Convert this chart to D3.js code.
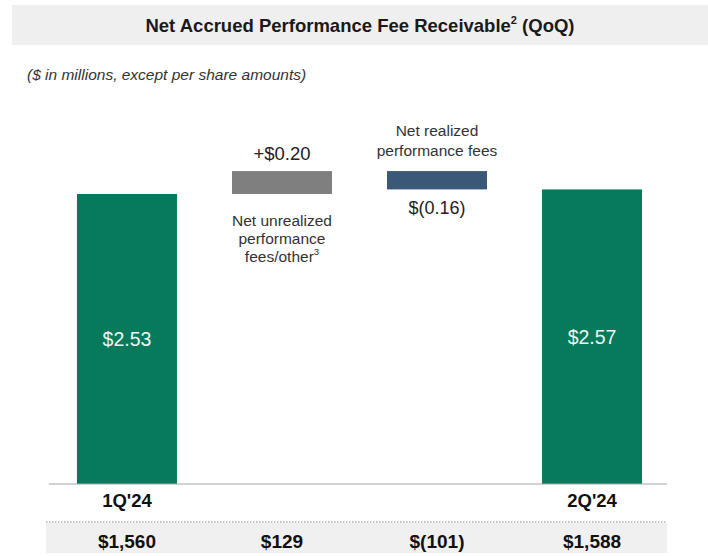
<!DOCTYPE html>
<html lang="en">
<head>
    <meta charset="UTF-8">
    <script src="https://d3js.org/d3.v7.min.js"></script>
    <title>Net Accrued Performance Fee Receivable</title>
    <style>
        body { margin: 0; background: #fff; }
        svg { font-family: "Liberation Sans", Arial, sans-serif; }
    </style>
</head>
<body>
    <div id="chart"></div>
    <script>
        // per share values for the waterfall
        const steps = ["1Q'24", "unrealized", "realized", "2Q'24"];
        const stepValues = [2.53, 0.20, -0.16, 2.57];
        const stepTypes = ["total", "delta", "delta", "total"];
        const stepLabels = ["$2.53", "+$0.20", "$(0.16)", "$2.57"];
        const axisLabels = ["1Q'24", "", "", "2Q'24"];
        const millions = ["$1,560", "$129", "$(101)", "$1,588"];

        const width = 708, height = 556;
        const colors = {
            total: "#077a5b",
            up: "#7f7f7f",
            down: "#3b5878"
        };

        const svg = d3.select("#chart").append("svg")
            .attr("width", width)
            .attr("height", height);

        // header band
        svg.append("rect")
            .attr("x", 12).attr("y", 5)
            .attr("width", width - 12).attr("height", 40)
            .attr("fill", "#efefef");

        const title = svg.append("text")
            .attr("x", 360).attr("y", 32)
            .attr("text-anchor", "middle")
            .attr("font-size", 18.5)
            .attr("font-weight", "bold")
            .attr("fill", "#1a1a1a");
        title.append("tspan").text("Net Accrued Performance Fee Receivable");
        title.append("tspan").text("2").attr("font-size", 11).attr("dy", -8);
        title.append("tspan").text(" (QoQ)").attr("dy", 8);

        svg.append("text")
            .attr("x", 27).attr("y", 80)
            .attr("font-size", 15.5)
            .attr("font-style", "italic")
            .attr("fill", "#333")
            .text("($ in millions, except per share amounts)");

        // scales
        const x = d3.scaleBand()
            .domain(steps)
            .range([50, 669])
            .paddingInner(0.355)
            .paddingOuter(0.174);

        const y = d3.scaleLinear()
            .domain([0, 2.53])
            .range([484, 194]);

        // compute waterfall extents
        let running = 0;
        const bars = steps.map((s, i) => {
            const v = stepValues[i];
            let y0, y1, kind;
            if (stepTypes[i] === "total") {
                y0 = 0; y1 = v; running = v; kind = "total";
            } else {
                y0 = running; y1 = running + v; running = y1;
                kind = v >= 0 ? "up" : "down";
            }
            return { step: s, y0, y1, kind, label: stepLabels[i] };
        });

        svg.selectAll("rect.bar")
            .data(bars)
            .enter()
            .append("rect")
            .attr("class", "bar")
            .attr("x", d => x(d.step))
            .attr("width", x.bandwidth())
            .attr("y", d => y(Math.max(d.y0, d.y1)))
            .attr("height", d => Math.abs(y(d.y0) - y(d.y1)))
            .attr("fill", d => colors[d.kind]);

        // baseline
        svg.append("line")
            .attr("x1", 49).attr("x2", 667)
            .attr("y1", y(0)).attr("y2", y(0))
            .attr("stroke", "#a6a6a6")
            .attr("stroke-width", 1.2);

        // value labels
        const cx = d => x(d.step) + x.bandwidth() / 2;
        bars.forEach(d => {
            const t = svg.append("text")
                .attr("x", cx(d))
                .attr("text-anchor", "middle")
                .text(d.label);
            if (d.kind === "total") {
                t.attr("y", y(d.y1 / 2) + 7).attr("fill", "#eef5f2").attr("font-size", 19.5);
            } else if (d.kind === "up") {
                t.attr("y", y(d.y1) - 11).attr("fill", "#222").attr("font-size", 18.5);
            } else {
                t.attr("y", y(d.y1) + 25).attr("fill", "#222").attr("font-size", 18);
            }
        });

        // step descriptions
        const descUp = svg.append("text")
            .attr("text-anchor", "middle")
            .attr("font-size", 15.5)
            .attr("fill", "#333");
        descUp.append("tspan").attr("x", cx(bars[1])).attr("y", 226).text("Net unrealized");
        descUp.append("tspan").attr("x", cx(bars[1])).attr("y", 244).text("performance");
        descUp.append("tspan").attr("x", cx(bars[1])).attr("y", 262).text("fees/other");
        descUp.append("tspan").attr("font-size", 9.5).attr("dy", -7).text("3");

        const descDown = svg.append("text")
            .attr("text-anchor", "middle")
            .attr("font-size", 15.5)
            .attr("fill", "#333");
        descDown.append("tspan").attr("x", cx(bars[2])).attr("y", 136).text("Net realized");
        descDown.append("tspan").attr("x", cx(bars[2])).attr("y", 156).text("performance fees");

        // axis category labels
        svg.selectAll("text.cat")
            .data(steps)
            .enter()
            .append("text")
            .attr("class", "cat")
            .attr("x", d => x(d) + x.bandwidth() / 2)
            .attr("y", 507)
            .attr("text-anchor", "middle")
            .attr("font-size", 18.5)
            .attr("font-weight", "bold")
            .attr("fill", "#111")
            .text((d, i) => axisLabels[i]);

        // bottom band with $ millions
        svg.append("rect")
            .attr("x", 46).attr("y", 523)
            .attr("width", 621).attr("height", 30)
            .attr("fill", "#f0f0f0");

        svg.append("line")
            .attr("x1", 46).attr("x2", 667)
            .attr("y1", 522).attr("y2", 522)
            .attr("stroke", "#8c8c8c")
            .attr("stroke-width", 1.2)
            .attr("stroke-dasharray", "1.5,1.5");

        svg.selectAll("text.mil")
            .data(steps)
            .enter()
            .append("text")
            .attr("class", "mil")
            .attr("x", d => x(d) + x.bandwidth() / 2)
            .attr("y", 548)
            .attr("text-anchor", "middle")
            .attr("font-size", 19)
            .attr("font-weight", "bold")
            .attr("fill", "#111")
            .text((d, i) => millions[i]);
    </script>
</body>
</html>
